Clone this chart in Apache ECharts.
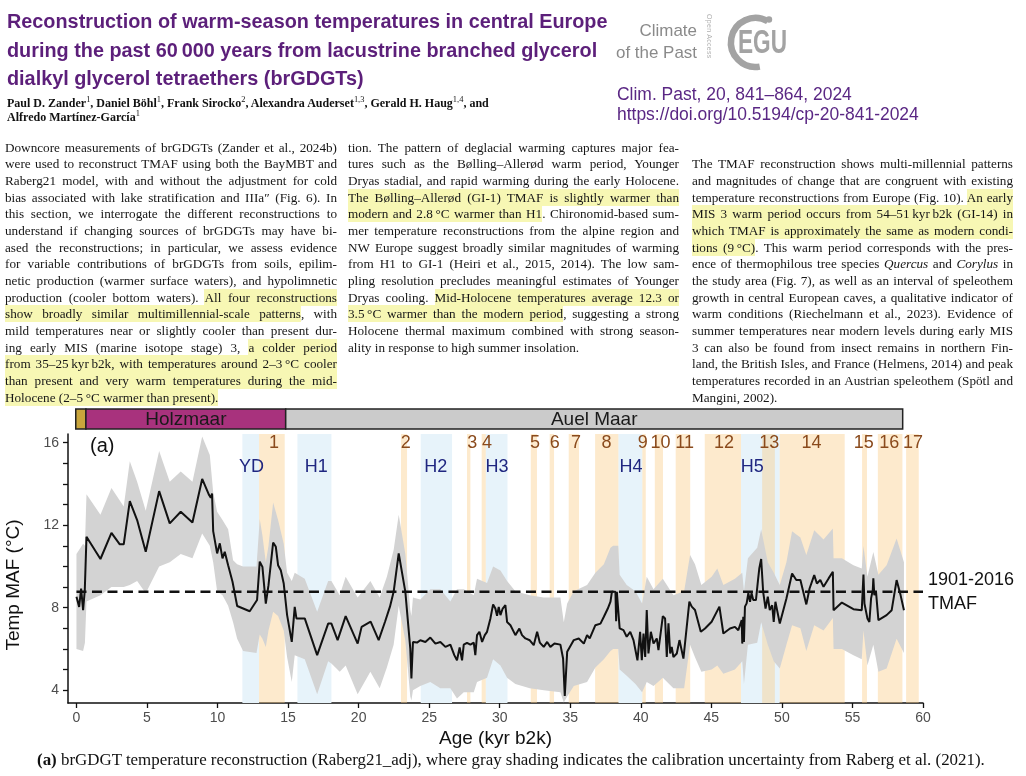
<!DOCTYPE html>
<html><head><meta charset="utf-8">
<script src="https://cdn.jsdelivr.net/npm/echarts@6/dist/echarts.min.js"></script>
<style>
html,body{margin:0;padding:0;background:#fff;}
#page{position:relative;width:1026px;height:776px;overflow:hidden;background:#fff;}
#chart{position:absolute;left:0;top:0;width:1026px;height:776px;z-index:0;}
.t{position:absolute;z-index:2;white-space:nowrap;}
.col{position:absolute;z-index:2;font-family:'Liberation Serif',serif;font-size:13.2px;line-height:16.67px;color:#161616;}
.col div{text-align:justify;text-align-last:justify;word-spacing:-1.5px;}
.col div.e{text-align-last:left;word-spacing:normal;}
.hl{background:#f7f7b4;padding:1px 0;}
sup{font-weight:normal;font-size:0.7em;line-height:0;}
</style></head>
<body>
<div id="page">
<div id="chart"></div>

<div class="t" id="ttl" style="left:7px;top:7px;font-family:'Liberation Sans';font-weight:bold;font-size:20px;line-height:28.5px;color:#5c1f7a;">
<div><span id="ttl1">Reconstruction of warm-season temperatures in central Europe</span></div>
<div>during the past 60&#8201;000 years from lacustrine branched glycerol</div>
<div>dialkyl glycerol tetraethers (brGDGTs)</div>
</div>

<div class="t" id="auth" style="left:7px;top:96px;font-family:'Liberation Serif';font-weight:bold;font-size:12px;line-height:14.4px;color:#111;">
<div><span id="auth1">Paul D. Zander<sup>1</sup>, Daniel Böhl<sup>1</sup>, Frank Sirocko<sup>2</sup>, Alexandra Auderset<sup>1,3</sup>, Gerald H. Haug<sup>1,4</sup>, and</span></div>
<div>Alfredo Martínez-García<sup>1</sup></div>
</div>

<div class="t" id="cotp" style="right:329px;top:20px;text-align:right;font-family:'Liberation Sans';font-size:17px;line-height:21.6px;color:#8a8a8a;">
<div>Climate</div>
<div><span id="cotp2">of the Past</span></div>
</div>
<div class="t" style="left:706px;top:14px;writing-mode:vertical-rl;font-family:'Liberation Sans';font-size:7px;color:#b0b0b0;letter-spacing:0.3px;">Open Access</div>
<svg class="t" style="left:700px;top:8px;" width="100" height="70" viewBox="700 8 100 70">
  <path d="M 767.75 21.3 A 24.5 24.5 0 1 0 759.75 66.6" fill="none" stroke="#a3a3a3" stroke-width="6.5"/>
  <circle cx="769" cy="19.5" r="3.2" fill="#a3a3a3"/>
  <text x="738" y="53" font-family="Liberation Sans" font-weight="bold" font-size="34" fill="#a3a3a3" textLength="49" lengthAdjust="spacingAndGlyphs">EGU</text>
</svg>

<div class="t" id="jrn" style="left:617px;top:83.6px;font-family:'Liberation Sans';font-size:17.5px;line-height:20.7px;color:#5a2784;">
<div><span id="jrn1">Clim. Past, 20, 841–864, 2024</span></div>
<div>https://doi.org/10.5194/cp-20-841-2024</div>
</div>

<div class="col" style="left:5px;top:139.5px;width:332px;">
<div>Downcore measurements of brGDGTs (Zander et al., 2024b)</div>
<div>were used to reconstruct TMAF using both the BayMBT and</div>
<div>Raberg21 model, with and without the adjustment for cold</div>
<div>bias associated with lake stratification and IIIa&#8243; (Fig. 6). In</div>
<div>this section, we interrogate the different reconstructions to</div>
<div>understand if changing sources of brGDGTs may have bi-</div>
<div>ased the reconstructions; in particular, we assess evidence</div>
<div>for variable contributions of brGDGTs from soils, epilim-</div>
<div>netic production (warmer surface waters), and hypolimnetic</div>
<div>production (cooler bottom waters). <span class="hl">All four reconstructions</span></div>
<div><span class="hl">show broadly similar multimillennial-scale patterns</span>, with</div>
<div>mild temperatures near or slightly cooler than present dur-</div>
<div>ing early MIS (marine isotope stage) 3, <span class="hl">a colder period</span></div>
<div><span class="hl">from 35–25&#8201;kyr&#8201;b2k, with temperatures around 2–3&#8201;°C cooler</span></div>
<div><span class="hl">than present and very warm temperatures during the mid-</span></div>
<div class="e"><span class="hl">Holocene (2–5&#8201;°C warmer than present).</span></div>
</div>

<div class="col" style="left:348px;top:139.5px;width:331px;">
<div>tion. The pattern of deglacial warming captures major fea-</div>
<div>tures such as the Bølling–Allerød warm period, Younger</div>
<div>Dryas stadial, and rapid warming during the early Holocene.</div>
<div><span class="hl">The Bølling–Allerød (GI-1) TMAF is slightly warmer than</span></div>
<div><span class="hl">modern and 2.8&#8201;°C warmer than H1</span>. Chironomid-based sum-</div>
<div>mer temperature reconstructions from the alpine region and</div>
<div>NW Europe suggest broadly similar magnitudes of warming</div>
<div>from H1 to GI-1 (Heiri et al., 2015, 2014). The low sam-</div>
<div>pling resolution precludes meaningful estimates of Younger</div>
<div>Dryas cooling. <span class="hl">Mid-Holocene temperatures average 12.3 or</span></div>
<div><span class="hl">3.5&#8201;°C warmer than the modern period</span>, suggesting a strong</div>
<div>Holocene thermal maximum combined with strong season-</div>
<div class="e">ality in response to high summer insolation.</div>
</div>

<div class="col" style="left:692px;top:156.2px;width:321px;">
<div>The TMAF reconstruction shows multi-millennial patterns</div>
<div>and magnitudes of change that are congruent with existing</div>
<div>temperature reconstructions from Europe (Fig. 10). <span class="hl">An early</span></div>
<div><span class="hl">MIS 3 warm period occurs from 54–51&#8201;kyr&#8201;b2k (GI-14) in</span></div>
<div><span class="hl">which TMAF is approximately the same as modern condi-</span></div>
<div><span class="hl">tions (9&#8201;°C)</span>. This warm period corresponds with the pres-</div>
<div>ence of thermophilous tree species <i>Quercus</i> and <i>Corylus</i> in</div>
<div>the study area (Fig. 7), as well as an interval of speleothem</div>
<div>growth in central European caves, a qualitative indicator of</div>
<div>warm conditions (Riechelmann et al., 2023). Evidence of</div>
<div>summer temperatures near modern levels during early MIS</div>
<div>3 can also be found from insect remains in northern Fin-</div>
<div>land, the British Isles, and France (Helmens, 2014) and peak</div>
<div>temperatures recorded in an Austrian speleothem (Spötl and</div>
<div class="e">Mangini, 2002).</div>
</div>

<div class="t" id="cap" style="left:37px;top:751px;font-family:'Liberation Serif';font-size:15px;line-height:18px;color:#111;"><b>(a)</b> brGDGT temperature reconstruction (Raberg21_adj), where gray shading indicates the calibration uncertainty from Raberg et al. (2021).</div>
</div>

<script>
// ---------------- DATA ----------------
const ageKyr = [0.00,0.19,0.33,0.47,0.59,0.71,1.70,2.48,3.07,3.35,
3.78,4.30,4.91,5.86,6.61,7.39,8.22,8.91,9.40,9.52,
9.61,9.69,9.97,10.16,10.35,10.51,10.75,11.06,11.39,12.28,
12.80,12.99,13.18,13.42,13.61,13.94,14.13,14.29,14.48,14.69,
14.93,15.26,15.47,15.59,16.18,17.06,17.84,18.07,18.51,19.08,
19.93,20.21,20.85,21.42,21.87,22.22,22.48,22.84,23.31,23.66,
23.74,23.85,24.14,24.37,24.73,25.08,25.44,25.79,26.15,26.50,
26.78,26.97,27.16,27.33,27.45,27.68,27.92,28.16,28.27,28.39,
28.56,28.75,28.94,29.10,29.34,29.53,29.69,29.81,29.93,30.05,
30.21,30.40,30.52,30.76,31.11,31.39,31.58,31.82,32.13,32.41,
32.65,32.84,33.12,33.36,33.59,33.88,34.30,34.49,34.61,34.78,
35.25,35.60,35.96,36.19,36.38,36.78,37.14,37.38,37.66,37.85,
37.95,38.20,38.25,38.30,38.40,38.50,38.77,39.00,39.25,39.48,
39.76,39.95,40.07,40.19,40.31,40.42,40.54,40.71,40.90,41.13,
41.25,41.56,41.72,41.84,41.96,42.08,42.19,42.31,42.55,42.74,
43.02,43.44,43.61,43.84,44.25,44.55,45.02,45.57,45.85,46.32,
46.67,46.91,47.15,47.19,47.26,47.31,47.38,47.50,47.62,47.74,
47.85,47.97,48.16,48.30,48.40,48.53,48.67,48.84,49.00,49.14,
49.31,49.42,49.54,49.85,50.32,50.72,51.02,51.31,51.73,51.96,
52.29,52.48,52.72,52.95,53.31,53.61,53.66,54.25,55.07,55.66,
55.78,55.85,55.96,56.06,56.20,56.32,56.44,56.48,56.55,56.67,
56.84,57.42,57.78,58.13,58.41,58.65];

const tempC = [8.53,8.04,8.93,7.88,8.85,11.44,10.36,11.63,11.07,11.07,
13.17,12.25,10.71,13.65,12.09,12.65,12.13,14.24,13.46,13.33,
13.54,11.71,10.63,11.12,10.39,10.71,10.06,9.26,8.08,7.83,
8.37,10.23,9.98,8.20,9.09,11.16,10.95,10.06,9.82,9.17,
7.64,6.34,8.04,7.48,7.48,5.70,7.23,7.23,6.43,7.59,
6.26,7.07,7.32,6.43,7.32,8.05,8.77,10.63,8.77,6.02,
4.57,6.34,6.31,6.42,6.34,6.55,6.26,6.34,6.10,6.21,
5.70,5.45,6.07,5.45,6.21,6.30,6.21,6.31,5.70,6.67,
6.83,6.34,6.67,6.83,7.48,8.16,7.96,7.61,8.04,7.64,
7.96,8.12,7.31,7.15,6.67,6.99,6.67,6.51,6.42,6.18,
6.83,6.31,6.10,6.34,6.10,6.26,6.21,5.54,3.72,5.86,
6.43,6.51,6.26,6.67,6.51,7.15,7.23,7.56,7.96,8.29,
8.77,8.77,7.35,8.77,8.77,7.00,6.91,6.59,6.83,6.43,
5.45,6.83,5.45,6.75,5.61,7.89,5.78,6.83,6.26,6.51,
5.94,7.59,7.48,5.61,7.24,5.78,6.10,5.61,5.78,6.43,
5.53,8.29,8.05,7.89,6.83,6.99,7.32,8.05,6.75,6.99,
7.07,6.91,7.40,6.26,7.56,6.34,8.05,8.21,8.70,8.29,
8.70,8.37,8.37,9.30,9.92,10.36,8.77,7.96,8.53,7.88,
8.12,7.31,8.29,7.23,8.45,9.66,9.34,9.34,8.16,8.93,
9.58,9.17,9.34,9.01,9.42,9.74,7.88,8.25,7.93,7.88,
9.61,8.20,8.12,7.48,7.31,8.45,8.85,9.42,8.61,8.77,
7.40,7.64,7.88,9.34,8.61,7.88];

const bandAge = [0.00,0.47,0.60,0.71,1.70,2.48,3.35,3.78,4.30,4.91,
5.86,6.61,7.39,8.22,8.91,9.45,9.69,9.97,10.35,10.75,
11.10,11.39,11.81,12.76,12.99,13.18,13.42,13.61,13.94,14.29,
14.69,14.93,15.26,15.47,16.18,17.06,17.84,18.07,18.66,19.08,
19.93,20.83,21.49,22.00,22.48,22.84,23.31,23.66,23.74,23.85,
24.37,25.08,25.79,26.50,26.97,27.45,28.16,28.39,29.10,29.53,
30.05,30.52,31.11,32.13,33.12,34.30,34.54,34.78,35.25,36.19,
36.78,37.38,37.85,38.04,38.40,38.50,39.00,39.62,40.09,40.42,
40.90,41.56,42.31,43.07,43.49,43.84,44.29,45.02,45.42,45.85,
46.67,47.19,47.31,47.59,48.25,48.53,49.00,49.42,49.85,50.32,
50.72,51.31,51.73,52.29,52.95,53.61,53.66,54.25,55.07,55.66,
55.78,56.06,56.48,56.84,57.42,58.13,58.65];

const bandLow = [6.0,5.9,6.3,8.3,8.6,9.0,9.0,9.1,9.3,8.7,
10.0,10.2,10.6,10.4,11.6,11.0,10.2,8.8,8.6,8.1,
7.3,6.5,5.9,5.8,6.7,6.5,6.1,6.9,7.8,7.6,
6.9,5.6,4.4,5.7,5.5,3.8,5.4,5.3,4.9,5.2,
3.8,4.9,4.1,5.1,6.2,8.1,6.4,3.7,3.5,4.0,
4.2,4.4,4.1,4.1,3.6,3.9,3.9,4.4,4.6,5.5,
5.2,4.6,4.3,4.1,4.0,3.9,3.4,3.7,4.2,4.4,
5.1,5.5,5.9,6.0,6.0,5.0,4.7,4.3,3.9,4.4,
4.2,4.6,4.1,4.1,6.2,5.6,4.9,5.0,5.2,4.8,
5.0,5.4,4.3,6.2,6.3,7.3,6.2,5.4,5.05,6.2,
7.15,7.0,5.9,7.15,6.9,7.5,6.0,6.0,5.7,5.5,
6.9,5.2,6.2,4.9,5.05,6.5,5.8];

const bandHigh = [10.6,11.1,11.0,13.5,12.5,13.8,12.9,15.1,14.1,12.7,
15.6,14.1,14.6,14.1,16.3,15.4,13.6,12.65,12.25,11.8,
10.3,10.1,10.0,10.0,12.3,11.5,10.2,11.0,13.1,12.25,
11.1,9.7,9.3,9.7,9.4,7.8,9.3,9.3,8.6,9.5,
8.5,9.3,8.5,9.5,10.8,12.5,10.6,7.9,7.6,8.5,
8.4,8.9,8.9,8.3,8.9,8.9,8.6,9.4,9.2,10.0,
9.8,9.3,8.8,8.6,8.5,8.5,7.3,8.2,8.8,9.1,
9.7,10.1,10.9,11.0,11.0,9.6,9.1,8.8,8.2,9.5,
8.9,9.4,8.6,8.8,10.55,10.1,9.1,9.5,9.9,9.1,
9.4,9.7,8.8,10.4,10.9,11.8,10.2,9.7,9.1,10.2,
11.7,11.4,10.55,11.76,11.3,11.84,10.4,10.4,10.06,9.9,
11.0,9.5,10.7,9.6,10.06,11.36,10.2];

const tmafModern = 8.77;          // 1901-2016 TMAF
const tmafSpan = [0, 60];

const stadialNames   = ['YD','H1','H2','H3','H4','H5'];
const stadialStart   = [11.76,15.66,24.40,29.01,38.41,47.10];
const stadialEnd     = [12.94,18.07,26.62,30.55,40.11,49.84];
const stadialLabelAt = [12.4,17.0,25.47,29.8,39.3,47.9];

const interNames   = ['1','2','3','4','5','6','7','8','9','10','11','12','13','14','15','16','17'];
const interStart   = [12.94,23.00,27.68,28.72,32.20,33.54,34.89,36.76,40.11,40.99,42.47,44.53,48.60,49.84,55.68,56.80,58.80];
const interEnd     = [14.76,23.43,27.92,29.01,32.64,33.85,35.62,38.41,40.35,41.57,43.50,47.10,49.50,54.45,56.03,58.54,59.70];
const interLabelAt = [14.0,23.34,28.06,29.1,32.5,33.9,35.4,37.56,40.14,41.4,43.1,45.9,49.1,52.1,55.8,57.6,59.3];

const lakeNames = ['', 'Holzmaar', 'Auel Maar'];
const lakeStart = [-0.05, 0.67, 14.83];
const lakeEnd   = [0.67, 14.83, 58.56];

const xTickValues  = [0,5,10,15,20,25,30,35,40,45,50,55,60];
const yLabelValues = [4,8,12,16];
const yTickValues  = [4,5,6,7,8,9,10,11,12,13,14,15,16];

// ---------------- STYLE ----------------
const FONT = 'Liberation Sans';
const LAKE_FILL = ['#c9a53c', '#a8327d', '#cbcbcb'];
const BLUE = '#e7f3fa';
const ORANGE = 'rgba(251,205,135,0.42)';
const BAND_GRAY = '#d3d3d3';
const NUM_COLOR = '#8a4a1c';
const H_COLOR = '#1f2680';
const AX = '#111';

function bandSeries(starts, ends, fill, z) {
  return {
    type: 'custom', xAxisIndex: 0, yAxisIndex: 0, z: z, silent: true,
    data: starts.map((s, i) => [s, ends[i]]),
    renderItem(params, api) {
      const cs = params.coordSys;
      const x0 = api.coord([api.value(0), 8])[0];
      const x1 = api.coord([api.value(1), 8])[0];
      return { type: 'rect', shape: { x: x0, y: cs.y, width: x1 - x0, height: cs.height }, style: { fill: fill } };
    }
  };
}
function labelSeries(at, names, color, dy, z) {
  return {
    type: 'custom', xAxisIndex: 0, yAxisIndex: 0, z: z, silent: true,
    data: at.map((x, i) => [x, i]),
    renderItem(params, api) {
      const cs = params.coordSys;
      const px = api.coord([api.value(0), 8])[0];
      return { type: 'text', x: px, y: cs.y + dy,
        style: { text: names[params.dataIndex], fill: color, font: '18px "' + FONT + '"',
                 align: 'center', verticalAlign: 'middle', textAlign: 'center', textVerticalAlign: 'middle' } };
    }
  };
}

const chart = echarts.init(document.getElementById('chart'), null, { renderer: 'canvas' });
const option = {
  animation: false,
  backgroundColor: '#fff',
  title: { text: '(a)', left: 90, top: 436, padding: 0,
    textStyle: { fontFamily: FONT, fontSize: 20, fontWeight: 'normal', color: '#111' } },
  graphic: [{
    type: 'text', x: 14, y: 585, rotation: Math.PI / 2,
    style: { text: 'Temp MAF (°C)', font: '19px "' + FONT + '"', fill: '#111',
      align: 'center', verticalAlign: 'middle', textAlign: 'center', textVerticalAlign: 'middle' }
  }],
  grid: [
    { left: 68, right: 103, top: 434, bottom: 73, outerBoundsMode: 'none', containLabel: false },
    { left: 68, right: 103, top: 409, height: 20, outerBoundsMode: 'none', containLabel: false }
  ],
  xAxis: [
    { type: 'value', gridIndex: 0, min: -0.6, max: 60,
      name: 'Age (kyr b2k)', nameLocation: 'middle', nameGap: 26,
      nameTextStyle: { fontFamily: FONT, fontSize: 19, color: '#111' },
      axisLine: { show: true, onZero: false, lineStyle: { color: AX, width: 1.5 } },
      axisTick: { show: true, customValues: xTickValues, length: 5, lineStyle: { color: AX, width: 1.3 } },
      axisLabel: { customValues: xTickValues, fontFamily: FONT, fontSize: 14, color: '#4d4d4d', margin: 8 },
      splitLine: { show: false } },
    { type: 'value', gridIndex: 1, min: -0.6, max: 60, show: false }
  ],
  yAxis: [
    { type: 'value', gridIndex: 0, min: 3.38, max: 16.42,
      axisLine: { show: true, onZero: false, lineStyle: { color: AX, width: 1.5 } },
      axisTick: { show: true, customValues: yTickValues, length: 5, lineStyle: { color: AX, width: 1.3 } },
      axisLabel: { customValues: yLabelValues, fontFamily: FONT, fontSize: 14, color: '#4d4d4d', margin: 9 },
      splitLine: { show: false } },
    { type: 'value', gridIndex: 1, min: 0, max: 1, show: false }
  ],
  series: [
    bandSeries(stadialStart, stadialEnd, BLUE, 1),
    bandSeries(interStart, interEnd, ORANGE, 2),
    {
      type: 'custom', xAxisIndex: 0, yAxisIndex: 0, z: 3, silent: true,
      data: bandAge.map((a, i) => [a, bandLow[i], bandHigh[i]]),
      renderItem(params, api) {
        if (params.dataIndex !== 0) return null;
        const pts = [];
        for (let i = 0; i < bandAge.length; i++) pts.push(api.coord([bandAge[i], bandHigh[i]]));
        for (let i = bandAge.length - 1; i >= 0; i--) pts.push(api.coord([bandAge[i], bandLow[i]]));
        return { type: 'polygon', shape: { points: pts }, style: { fill: BAND_GRAY } };
      }
    },
    {
      type: 'line', xAxisIndex: 0, yAxisIndex: 0, z: 4, silent: true,
      data: tmafSpan.map(x => [x, tmafModern]), symbol: 'none',
      lineStyle: { color: '#111', width: 2.5, type: [10, 5.5] },
      endLabel: { show: true, formatter: '1901-2016\nTMAF', fontFamily: FONT, fontSize: 18,
        lineHeight: 24, color: '#111', distance: 5 }
    },
    {
      type: 'line', xAxisIndex: 0, yAxisIndex: 0, z: 5, silent: true,
      data: ageKyr.map((a, i) => [a, tempC[i]]), symbol: 'none',
      lineStyle: { color: '#111', width: 2 }
    },
    labelSeries(interLabelAt, interNames, NUM_COLOR, 9, 6),
    labelSeries(stadialLabelAt, stadialNames, H_COLOR, 33, 6),
    {
      type: 'custom', xAxisIndex: 1, yAxisIndex: 1, z: 6, silent: true,
      data: lakeStart.map((s, i) => [s, lakeEnd[i]]),
      renderItem(params, api) {
        const i = params.dataIndex;
        const p0 = api.coord([api.value(0), 1]);
        const p1 = api.coord([api.value(1), 0]);
        return { type: 'group', children: [
          { type: 'rect', shape: { x: p0[0], y: p0[1], width: p1[0] - p0[0], height: p1[1] - p0[1] },
            style: { fill: LAKE_FILL[i], stroke: '#222', lineWidth: 1.5 } },
          { type: 'text', x: (p0[0] + p1[0]) / 2, y: (p0[1] + p1[1]) / 2 + 1,
            style: { text: lakeNames[i], fill: '#1a1a1a', font: '19px "' + FONT + '"',
              align: 'center', verticalAlign: 'middle', textAlign: 'center', textVerticalAlign: 'middle' } }
        ] };
      }
    }
  ]
};
chart.setOption(option);

// ------------- fit header / caption text widths -------------
function fitTo(container, measureEl, target) {
  const w = measureEl.getBoundingClientRect().width;
  const fs = parseFloat(getComputedStyle(container).fontSize);
  container.style.fontSize = (fs * target / w).toFixed(2) + 'px';
}
fitTo(document.getElementById('ttl'), document.getElementById('ttl1'), 601);
fitTo(document.getElementById('auth'), document.getElementById('auth1'), 482);
fitTo(document.getElementById('jrn'), document.getElementById('jrn1'), 235);
fitTo(document.getElementById('cotp'), document.getElementById('cotp2'), 81);
const cap = document.getElementById('cap');
fitTo(cap, cap, 948);
</script>
</body></html>
